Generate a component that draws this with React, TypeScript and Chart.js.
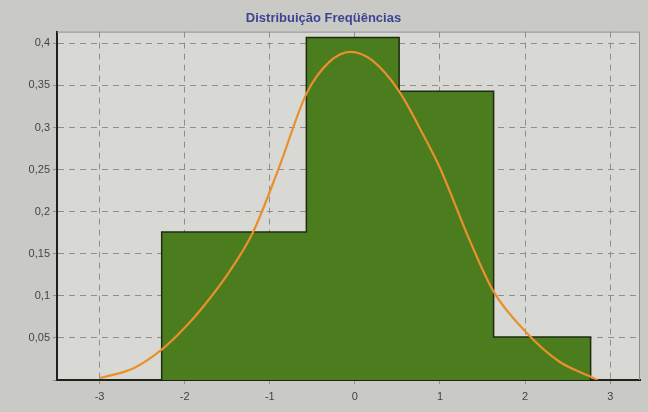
import React, { useEffect, useRef } from "react";
import { Chart, registerables } from "chart.js";

Chart.register(...registerables);

// Histogram bin starts and heights (each height holds from its start to the next start)
const binStarts = [-3.5, -2.27, -0.57, 0.52, 1.63, 2.77, 3.35];
const binHeights = [0, 0.176, 0.407, 0.343, 0.051, 0, 0];

// Fitted curve points
const curveX = [-3.0, -2.6, -2.27, -2.0, -1.8, -1.5, -1.2, -0.9, -0.57, -0.3, -0.05, 0.2, 0.52, 0.8, 1.0, 1.34, 1.63, 2.0, 2.4, 2.77, 2.85];
const curveY = [0.002, 0.014, 0.036, 0.062, 0.085, 0.125, 0.175, 0.25, 0.34, 0.378, 0.39, 0.38, 0.343, 0.292, 0.252, 0.168, 0.105, 0.058, 0.022, 0.004, 0.0];

const xTickValues = [-3, -2, -1, 0, 1, 2, 3];
const yTickValues = [0, 0.05, 0.1, 0.15, 0.2, 0.25, 0.3, 0.35, 0.4];

const titleText = "Distribuição Freqüências";

export default function App() {
  const ref = useRef<HTMLCanvasElement | null>(null);

  useEffect(() => {
    document.body.style.margin = "0";
    const canvas = ref.current;
    if (!canvas) return;

    const plotBg = {
      id: "plotBg",
      beforeDraw(chart: any) {
        const { ctx, chartArea } = chart;
        ctx.save();
        ctx.fillStyle = "#d8d9d4";
        ctx.fillRect(chartArea.left, chartArea.top, chartArea.right - chartArea.left, chartArea.bottom - chartArea.top);
        ctx.restore();
      },
      afterDraw(chart: any) {
        const { ctx, chartArea } = chart;
        ctx.save();
        ctx.strokeStyle = "#8e8f8a";
        ctx.lineWidth = 1;
        ctx.beginPath();
        ctx.moveTo(chartArea.left, chartArea.top + 0.5);
        ctx.lineTo(chartArea.right - 0.5, chartArea.top + 0.5);
        ctx.lineTo(chartArea.right - 0.5, chartArea.bottom);
        ctx.stroke();
        ctx.restore();
      },
    };

    const chart = new Chart(canvas, {
      type: "line",
      data: {
        datasets: [
          {
            label: "curve",
            data: curveX.map((x, i) => ({ x, y: curveY[i] })),
            borderColor: "#e8902c",
            borderWidth: 2.2,
            pointRadius: 0,
            fill: false,
            cubicInterpolationMode: "monotone",
          },
          {
            label: "hist",
            data: binStarts.map((x, i) => ({ x, y: binHeights[i] })),
            stepped: "before",
            borderColor: "#1e2a12",
            borderWidth: 1.5,
            backgroundColor: "#4b7c1d",
            pointRadius: 0,
            fill: "origin",
          },
        ],
      },
      options: {
        animation: false,
        responsive: false,
        maintainAspectRatio: false,
        layout: { padding: { left: 7, right: 8, bottom: 2, top: 0 } },
        plugins: {
          legend: { display: false },
          tooltip: { enabled: false },
          title: {
            display: true,
            text: titleText,
            color: "#3d4592",
            font: { family: "Liberation Sans, Arial, sans-serif", size: 13, weight: "bold" },
            padding: { top: 11, bottom: 5 },
          },
        },
        scales: {
          x: {
            type: "linear",
            min: -3.5,
            max: 3.35,
            afterBuildTicks: (s: any) => {
              s.ticks = xTickValues.map((v) => ({ value: v }));
            },
            afterFit: (s: any) => {
              s.height = 30;
            },
            ticks: {
              color: "#444444",
              font: { family: "Liberation Sans, Arial, sans-serif", size: 11 },
              padding: 6,
            },
            grid: { color: "#8e8f8a", lineWidth: 1, drawTicks: true, tickLength: 4 },
            border: { display: true, color: "#1f1f1f", width: 2, dash: [6, 5] },
          },
          y: {
            type: "linear",
            min: 0,
            max: 0.414,
            afterBuildTicks: (s: any) => {
              s.ticks = yTickValues.map((v) => ({ value: v }));
            },
            afterFit: (s: any) => {
              s.width = 50;
            },
            ticks: {
              color: "#444444",
              font: { family: "Liberation Sans, Arial, sans-serif", size: 11 },
              padding: 3,
              callback: (v: any) => (v === 0 ? "" : String(parseFloat(Number(v).toFixed(2))).replace(".", ",")),
            },
            grid: { color: "#8e8f8a", lineWidth: 1, drawTicks: true, tickLength: 4 },
            border: { display: true, color: "#1f1f1f", width: 2, dash: [6, 5] },
          },
        },
      },
      plugins: [plotBg],
    });

    return () => chart.destroy();
  }, []);

  return (
    <div style={{ position: "fixed", left: 0, top: 0, width: 648, height: 412, background: "#c9cac5" }}>
      <canvas ref={ref} width={648} height={412} style={{ display: "block", width: 648, height: 412 }} />
    </div>
  );
}
